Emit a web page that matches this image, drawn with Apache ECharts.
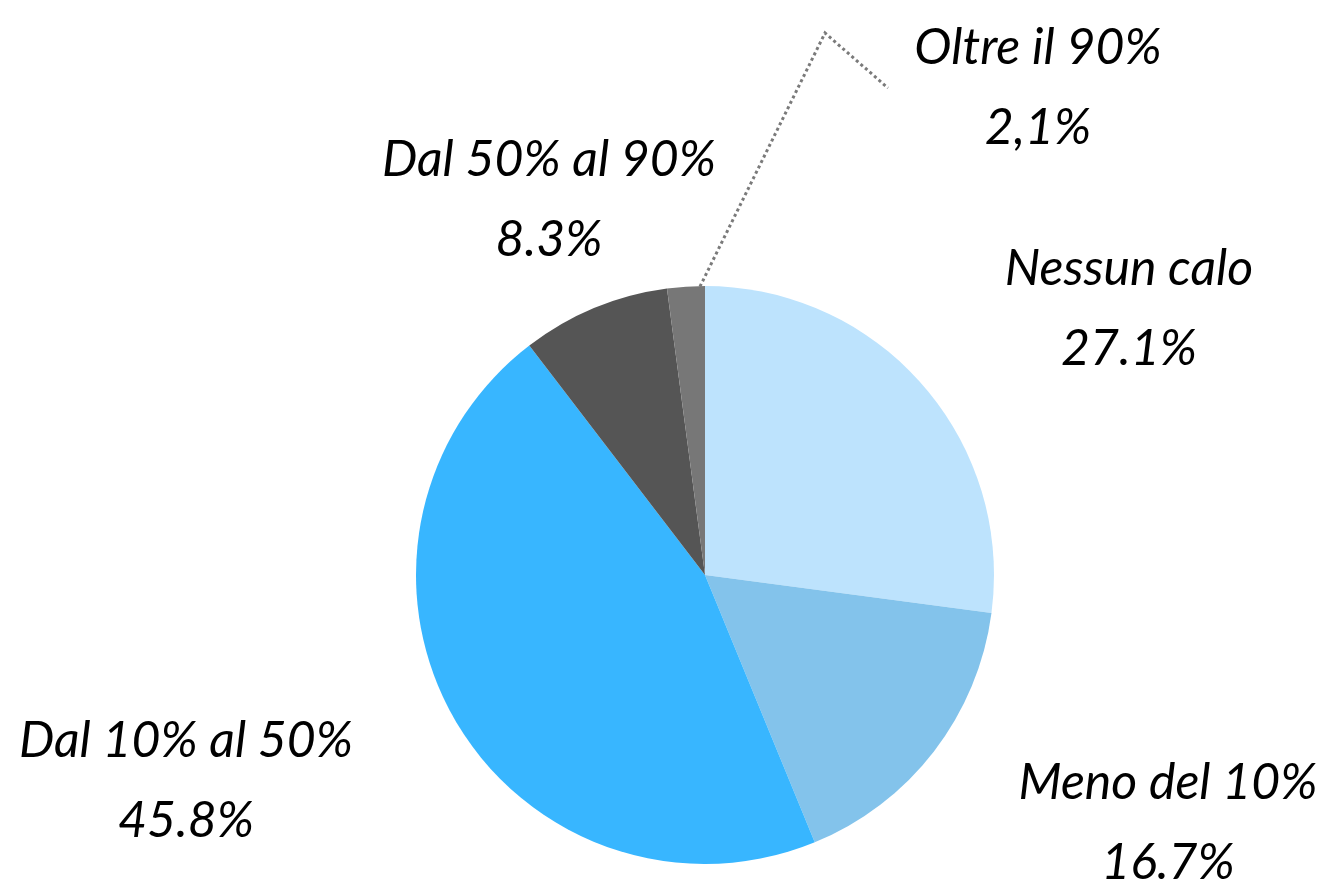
<!DOCTYPE html>
<html>
<head>
<meta charset="utf-8">
<script src="https://cdn.jsdelivr.net/npm/echarts@6/dist/echarts.min.js"></script>
<style>
  html, body { margin: 0; padding: 0; background: #fff; }
  #main { width: 1318px; height: 882px; }
</style>
</head>
<body>
<div id="main"></div>
<script>
// dati
var categorie = ['Nessun calo', 'Meno del 10%', 'Dal 10% al 50%', 'Dal 50% al 90%', 'Oltre il 90%'];
var valori = [27.1, 16.7, 45.8, 8.3, 2.1];
var etichette = ['27.1%', '16.7%', '45.8%', '8.3%', '2,1%'];
var colori = ['#bde3fd', '#83c3eb', '#38b6ff', '#555555', '#777777'];

// dove stanno le etichette (centro del blocco di testo)
var posEtichette = [
    [1129, 309],
    [1168, 823],
    [186, 781],
    [549, 200],
    [1038, 88]
];

var chart = echarts.init(document.getElementById('main'), null, { renderer: 'canvas' });

var option = {
    animation: false,
    series: [{
        type: 'pie',
        center: [705, 575],
        radius: 289,
        startAngle: 90,
        clockwise: true,
        avoidLabelOverlap: false,
        data: categorie.map(function (nome, i) {
            return {
                name: nome,
                value: valori[i],
                itemStyle: { color: colori[i] },
                labelLine: { show: i === 4 }
            };
        }),
        label: {
            show: true,
            position: 'outside',
            formatter: function (p) {
                return p.name + '\n' + etichette[p.dataIndex];
            },
            color: '#000',
            fontFamily: 'Lato',
            fontStyle: 'italic',
            fontSize: 50,
            lineHeight: 80,
            align: 'center'
        },
        labelLine: {
            lineStyle: {
                color: '#7a7a7a',
                width: 3,
                type: 'dotted'
            }
        },
        labelLayout: function (params) {
            var p = posEtichette[params.dataIndex];
            var out = { x: p[0], y: p[1], align: 'center', verticalAlign: 'middle' };
            if (params.dataIndex === 4 && params.labelLinePoints) {
                var start = params.labelLinePoints[0];
                out.labelLinePoints = [
                    [start[0] + 14, start[1]],
                    [p[0] - 213, p[1] - 55],
                    [p[0] - 150, p[1]]
                ];
            }
            return out;
        }
    }]
};

chart.setOption(option);
</script>
</body>
</html>
